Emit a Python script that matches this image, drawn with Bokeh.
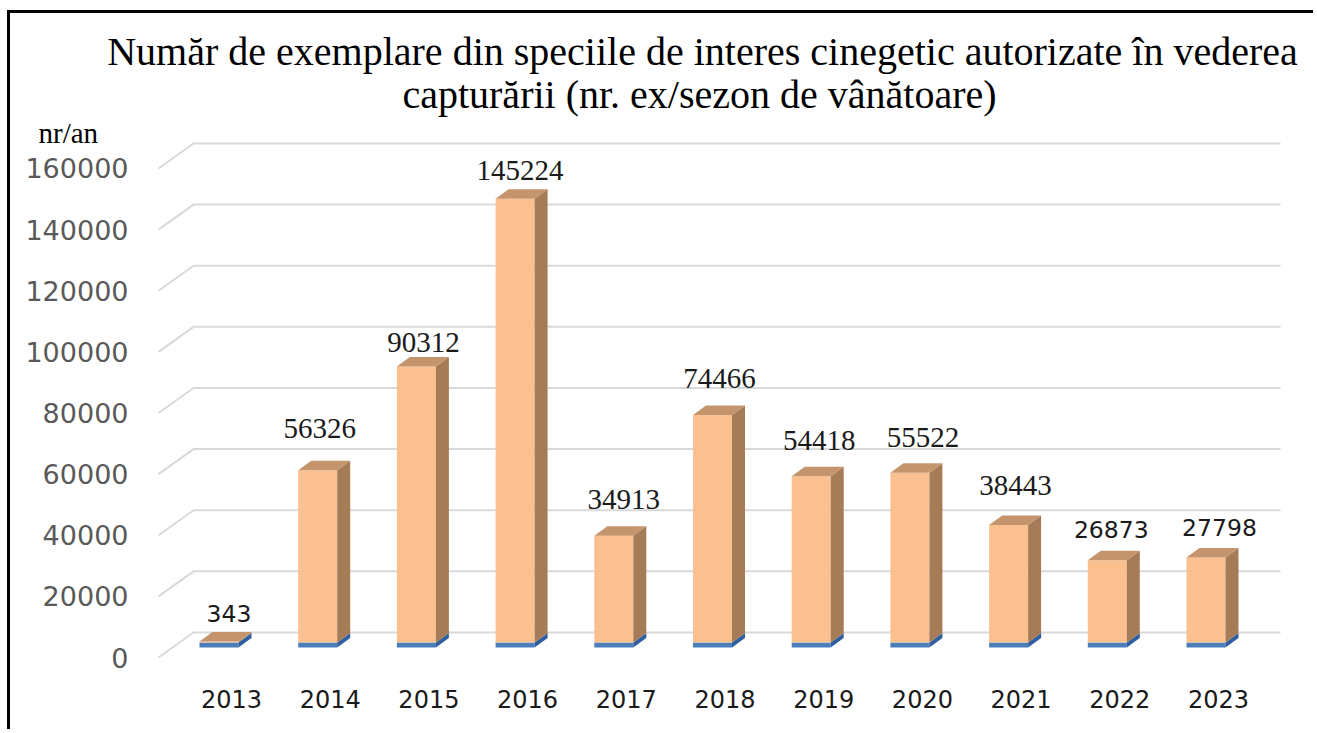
from bokeh.plotting import figure
from bokeh.models import Range1d, FixedTicker, Label
from bokeh.embed import file_html
from bokeh.resources import INLINE

# ---------------- data ----------------
years = ["2013", "2014", "2015", "2016", "2017", "2018", "2019", "2020", "2021", "2022", "2023"]
counts = [343, 56326, 90312, 145224, 34913, 74466, 54418, 55522, 38443, 26873, 27798]
y_ticks = [0, 20000, 40000, 60000, 80000, 100000, 120000, 140000, 160000]
title_lines = ["Număr de exemplare din speciile de interes cinegetic autorizate în vederea",
               "capturării (nr. ex/sezon de vânătoare)"]
unit_label = "nr/an"

# ---------------- styles / geometry (page pixels) ----------------
serif_label = [False, True, True, True, True, True, True, True, True, False, False]
label_dx_px = [10, 2, 7, 5, 10, 7, 8, 13, 7, 4, 13.5]      # label nudge from bar front centre
label_gap_px = [19, 31, 14, 18, 26, 26, 25, 25, 29, 22, 22]  # label bottom above bar front top
OX, OY = 10, 13            # canvas origin on the page (after css margin + border)
W, H = 1306, 719
L, R, T, B = 20, 1300, 13, 660   # plot frame on the page
X0_PAGE = 231.0            # page x of first category tick
SX = 98.7                  # px per category
K = 0.0030563              # px per unit of value
Y0_PAGE = 657.0            # page y of value 0 on the front plane
BASE_SHIFT = 0.36          # measured drop of the drawn text vs requested baseline (em)

def dx(px):
    return px / SX

def dy(px):
    return px / K

def px_x(page_x):
    return (page_x - X0_PAGE) / SX

def px_y(page_y):
    return (Y0_PAGE - page_y) / K

p = figure(width=W, height=H, title=None,
           x_range=Range1d(px_x(L), px_x(R)),
           y_range=Range1d(px_y(B), px_y(T)),
           output_backend="svg", toolbar_location=None,
           min_border_left=L - OX, min_border_right=OX + W - R,
           min_border_top=T - OY, min_border_bottom=OY + H - B)
p.styles = {"border-top": "3px solid black", "border-left": "3px solid black",
            "margin-left": "7px", "margin-top": "10px"}
p.outline_line_color = None
p.xgrid.visible = False
p.ygrid.visible = False
p.background_fill_color = "white"
p.border_fill_color = "white"

# axes
p.yaxis.ticker = FixedTicker(ticks=y_ticks)
p.yaxis.major_label_overrides = {v: str(v) for v in y_ticks}
p.yaxis.axis_line_color = None
p.yaxis.major_tick_line_color = None
p.yaxis.minor_tick_line_color = None
p.yaxis.major_label_text_font = "DejaVu Sans"
p.yaxis.major_label_text_font_size = "27px"
p.yaxis.major_label_text_color = "#595959"
p.yaxis.major_label_standoff = -(134 - L)

p.xaxis.ticker = FixedTicker(ticks=list(range(len(years))))
p.xaxis.major_label_overrides = {i: y for i, y in enumerate(years)}
p.xaxis.axis_line_color = None
p.xaxis.major_tick_line_color = None
p.xaxis.minor_tick_line_color = None
p.xaxis.major_label_text_font = "DejaVu Sans"
p.xaxis.major_label_text_font_size = "24px"
p.xaxis.major_label_text_color = "#1a1a1a"
p.xaxis.major_label_standoff = 23

# 3D gridlines (floor slant + back wall)
fdx, fdy = dx(35), dy(25)
gx0 = px_x(158)
gx1 = px_x(1280)
g_xs, g_ys = [], []
for v in y_ticks:
    g_xs.append([gx0, gx0 + fdx, gx1])
    g_ys.append([v, v + fdy, v + fdy])
p.multi_line(g_xs, g_ys, line_color="#D9D9D9", line_width=2)

# 3D bars
half_w = dx(19.5)
off = dx(-12.5)
bdx, bdy = dx(13), dy(9.5)
base0 = dy(10)
base1 = base0 + dy(5)

fb_l, fb_r, fb_b, fb_t = [], [], [], []
fo_l, fo_r, fo_b, fo_t = [], [], [], []
side_o_x, side_o_y, side_b_x, side_b_y, top_x, top_y = [], [], [], [], [], []
for i, c in enumerate(counts):
    xl = i + off - half_w
    xr = i + off + half_w
    top = base1 + c
    fb_l.append(xl); fb_r.append(xr); fb_b.append(base0); fb_t.append(base1)
    fo_l.append(xl); fo_r.append(xr); fo_b.append(base1); fo_t.append(top)
    side_b_x.append([xr, xr + bdx, xr + bdx, xr])
    side_b_y.append([base0, base0 + bdy, base1 + bdy, base1])
    side_o_x.append([xr, xr + bdx, xr + bdx, xr])
    side_o_y.append([base1, base1 + bdy, top + bdy, top])
    top_x.append([xl, xr, xr + bdx, xl + bdx])
    top_y.append([top, top, top + bdy, top + bdy])

p.quad(left=fb_l, right=fb_r, bottom=fb_b, top=fb_t, fill_color="#4A7EBB", line_color=None)
p.patches(side_b_x, side_b_y, fill_color="#2F5F9E", line_color=None)
p.quad(left=fo_l, right=fo_r, bottom=fo_b, top=fo_t, fill_color="#FAC090", line_color=None)
p.patches(side_o_x, side_o_y, fill_color="#A67C58", line_color=None)
p.patches(top_x, top_y, fill_color="#C4946C", line_color=None)

# data labels
for i, c in enumerate(counts):
    if serif_label[i]:
        font, size = "Liberation Serif", 29
    else:
        font, size = "DejaVu Sans", 23.5
    lx = i + off + dx(label_dx_px[i])
    ly = base1 + c + dy(label_gap_px[i] + BASE_SHIFT * size)
    p.add_layout(Label(x=lx, y=ly, text=str(c), text_align="center",
                       text_baseline="alphabetic", text_font=font,
                       text_font_size=f"{size}px", text_color="#1a1a1a"))

# title and unit label
TS = 40
p.add_layout(Label(x=px_x(702), y=px_y(65 - BASE_SHIFT * TS), text=title_lines[0],
                   text_align="center", text_baseline="alphabetic",
                   text_font="Liberation Serif", text_font_size=f"{TS}px", text_color="black"))
p.add_layout(Label(x=px_x(699), y=px_y(108 - BASE_SHIFT * TS), text=title_lines[1],
                   text_align="center", text_baseline="alphabetic",
                   text_font="Liberation Serif", text_font_size=f"{TS}px", text_color="black"))
US = 29
p.add_layout(Label(x=px_x(38), y=px_y(143 - BASE_SHIFT * US), text=unit_label, text_align="left",
                   text_baseline="alphabetic", text_font="Liberation Serif",
                   text_font_size=f"{US}px", text_color="black"))

open("out.html", "w").write(file_html(p, INLINE))
